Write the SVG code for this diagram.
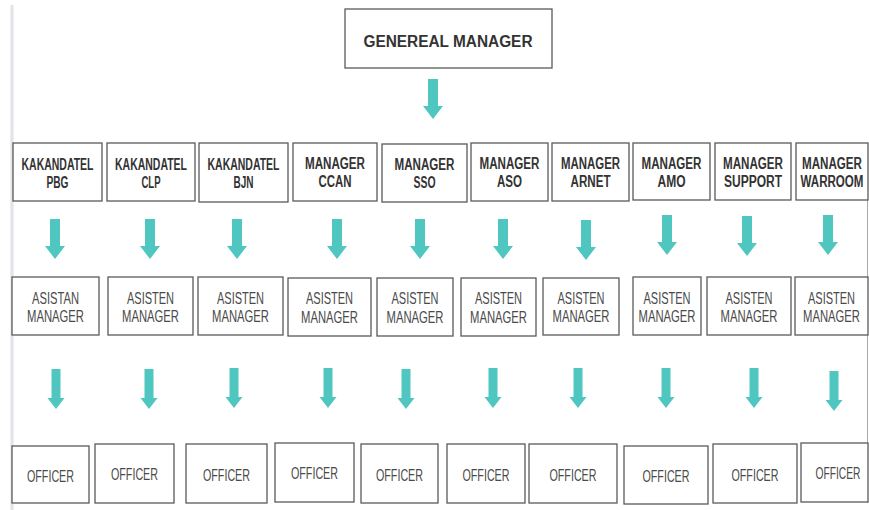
<svg xmlns="http://www.w3.org/2000/svg" xmlns:xlink="http://www.w3.org/1999/xlink" width="869" height="510" viewBox="0 0 869 510">
<style>
.box{fill:#fff;stroke:#5a5a5a;stroke-width:1.3}
.b{font-family:"Liberation Sans",Arial,sans-serif;font-weight:bold;font-size:16px;fill:#333;text-anchor:middle}
.n{font-family:"Liberation Sans",Arial,sans-serif;font-size:17px;fill:#4a4a4a;text-anchor:middle}
.arr{fill:#4fc6c0}
</style>
<defs>
<path id="arrowA" d="M-5,0 H5 V27 H10 L0,40 L-10,27 H-5 Z"/>
<path id="arrowB" d="M-4.5,0 H4.5 V29 H8.5 L0,40 L-8.5,29 H-4.5 Z"/>
</defs>
<rect width="869" height="510" fill="#fff"/>
<line x1="12" y1="5" x2="12" y2="510" stroke="#e2e2e8" stroke-width="3"/>
<line x1="867.5" y1="143" x2="867.5" y2="503" stroke="#aaa" stroke-width="1"/>

<g id="gm"><rect class="box" x="345" y="9" width="207" height="59"/><text class="b" x="448" y="47" font-size="21" textLength="169" lengthAdjust="spacingAndGlyphs">GENEREAL MANAGER</text></g>

<g id="r1-1"><rect class="box" x="13" y="143" width="89" height="58"/><text class="b" x="57.5" y="170" textLength="72" lengthAdjust="spacingAndGlyphs">KAKANDATEL</text><text class="b" x="57.5" y="188" textLength="22" lengthAdjust="spacingAndGlyphs">PBG</text></g>
<g id="r1-2"><rect class="box" x="107" y="143" width="88" height="58"/><text class="b" x="151" y="170" textLength="72" lengthAdjust="spacingAndGlyphs">KAKANDATEL</text><text class="b" x="151" y="188" textLength="19" lengthAdjust="spacingAndGlyphs">CLP</text></g>
<g id="r1-3"><rect class="box" x="199" y="143" width="89" height="59"/><text class="b" x="243.5" y="170" textLength="72" lengthAdjust="spacingAndGlyphs">KAKANDATEL</text><text class="b" x="243.5" y="188" textLength="20" lengthAdjust="spacingAndGlyphs">BJN</text></g>
<g id="r1-4"><rect class="box" x="293" y="143" width="84" height="58"/><text class="b" x="335" y="169" textLength="60" lengthAdjust="spacingAndGlyphs">MANAGER</text><text class="b" x="335" y="187" textLength="33" lengthAdjust="spacingAndGlyphs">CCAN</text></g>
<g id="r1-5"><rect class="box" x="382" y="144" width="85" height="58"/><text class="b" x="424.5" y="170" textLength="60" lengthAdjust="spacingAndGlyphs">MANAGER</text><text class="b" x="424.5" y="188" textLength="22" lengthAdjust="spacingAndGlyphs">SSO</text></g>
<g id="r1-6"><rect class="box" x="471" y="143" width="77" height="58"/><text class="b" x="509.5" y="169" textLength="60" lengthAdjust="spacingAndGlyphs">MANAGER</text><text class="b" x="509.5" y="187" textLength="25" lengthAdjust="spacingAndGlyphs">ASO</text></g>
<g id="r1-7"><rect class="box" x="552" y="143" width="77" height="58"/><text class="b" x="590.5" y="169" textLength="59" lengthAdjust="spacingAndGlyphs">MANAGER</text><text class="b" x="590.5" y="187" textLength="40" lengthAdjust="spacingAndGlyphs">ARNET</text></g>
<g id="r1-8"><rect class="box" x="633" y="143" width="77" height="57"/><text class="b" x="671.5" y="169" textLength="60" lengthAdjust="spacingAndGlyphs">MANAGER</text><text class="b" x="671.5" y="187" textLength="28" lengthAdjust="spacingAndGlyphs">AMO</text></g>
<g id="r1-9"><rect class="box" x="715" y="143" width="76" height="57"/><text class="b" x="753" y="169" textLength="60" lengthAdjust="spacingAndGlyphs">MANAGER</text><text class="b" x="753" y="187" textLength="58" lengthAdjust="spacingAndGlyphs">SUPPORT</text></g>
<g id="r1-10"><rect class="box" x="796" y="143" width="72" height="57"/><text class="b" x="832" y="169" textLength="60" lengthAdjust="spacingAndGlyphs">MANAGER</text><text class="b" x="832" y="187" textLength="63" lengthAdjust="spacingAndGlyphs">WARROOM</text></g>

<g id="r2-1"><rect class="box" x="12" y="277" width="87" height="58"/><text class="n" x="55.5" y="304" textLength="47" lengthAdjust="spacingAndGlyphs">ASISTAN</text><text class="n" x="55.5" y="322" textLength="57" lengthAdjust="spacingAndGlyphs">MANAGER</text></g>
<g id="r2-2"><rect class="box" x="108" y="277" width="85" height="58"/><text class="n" x="150.5" y="304" textLength="47" lengthAdjust="spacingAndGlyphs">ASISTEN</text><text class="n" x="150.5" y="322" textLength="57" lengthAdjust="spacingAndGlyphs">MANAGER</text></g>
<g id="r2-3"><rect class="box" x="198" y="277" width="85" height="58"/><text class="n" x="240.5" y="304" textLength="47" lengthAdjust="spacingAndGlyphs">ASISTEN</text><text class="n" x="240.5" y="322" textLength="57" lengthAdjust="spacingAndGlyphs">MANAGER</text></g>
<g id="r2-4"><rect class="box" x="288" y="278" width="83" height="58"/><text class="n" x="329.5" y="304" textLength="47" lengthAdjust="spacingAndGlyphs">ASISTEN</text><text class="n" x="329.5" y="323" textLength="57" lengthAdjust="spacingAndGlyphs">MANAGER</text></g>
<g id="r2-5"><rect class="box" x="377" y="278" width="76" height="58"/><text class="n" x="415" y="304" textLength="47" lengthAdjust="spacingAndGlyphs">ASISTEN</text><text class="n" x="415" y="323" textLength="57" lengthAdjust="spacingAndGlyphs">MANAGER</text></g>
<g id="r2-6"><rect class="box" x="461" y="278" width="75" height="58"/><text class="n" x="498.5" y="304" textLength="47" lengthAdjust="spacingAndGlyphs">ASISTEN</text><text class="n" x="498.5" y="323" textLength="57" lengthAdjust="spacingAndGlyphs">MANAGER</text></g>
<g id="r2-7"><rect class="box" x="543" y="278" width="76" height="57"/><text class="n" x="581" y="304" textLength="47" lengthAdjust="spacingAndGlyphs">ASISTEN</text><text class="n" x="581" y="322" textLength="57" lengthAdjust="spacingAndGlyphs">MANAGER</text></g>
<g id="r2-8"><rect class="box" x="633" y="277" width="68" height="58"/><text class="n" x="667" y="304" textLength="47" lengthAdjust="spacingAndGlyphs">ASISTEN</text><text class="n" x="667" y="322" textLength="57" lengthAdjust="spacingAndGlyphs">MANAGER</text></g>
<g id="r2-9"><rect class="box" x="707" y="277" width="84" height="58"/><text class="n" x="749" y="304" textLength="47" lengthAdjust="spacingAndGlyphs">ASISTEN</text><text class="n" x="749" y="322" textLength="57" lengthAdjust="spacingAndGlyphs">MANAGER</text></g>
<g id="r2-10"><rect class="box" x="795" y="277" width="73" height="58"/><text class="n" x="831.5" y="304" textLength="47" lengthAdjust="spacingAndGlyphs">ASISTEN</text><text class="n" x="831.5" y="322" textLength="57" lengthAdjust="spacingAndGlyphs">MANAGER</text></g>

<g id="r3-1"><rect class="box" x="12" y="446" width="77" height="57"/><text class="n" x="50.5" y="482" textLength="47" lengthAdjust="spacingAndGlyphs">OFFICER</text></g>
<g id="r3-2"><rect class="box" x="95" y="444" width="79" height="59"/><text class="n" x="134.5" y="480" textLength="47" lengthAdjust="spacingAndGlyphs">OFFICER</text></g>
<g id="r3-3"><rect class="box" x="186" y="444" width="81" height="59"/><text class="n" x="226.5" y="481" textLength="47" lengthAdjust="spacingAndGlyphs">OFFICER</text></g>
<g id="r3-4"><rect class="box" x="275" y="443" width="79" height="59"/><text class="n" x="314.5" y="479" textLength="47" lengthAdjust="spacingAndGlyphs">OFFICER</text></g>
<g id="r3-5"><rect class="box" x="361" y="444" width="77" height="59"/><text class="n" x="399.5" y="481" textLength="47" lengthAdjust="spacingAndGlyphs">OFFICER</text></g>
<g id="r3-6"><rect class="box" x="447" y="444" width="78" height="59"/><text class="n" x="486" y="481" textLength="47" lengthAdjust="spacingAndGlyphs">OFFICER</text></g>
<g id="r3-7"><rect class="box" x="529" y="444" width="88" height="59"/><text class="n" x="573" y="481" textLength="47" lengthAdjust="spacingAndGlyphs">OFFICER</text></g>
<g id="r3-8"><rect class="box" x="624" y="446" width="84" height="58"/><text class="n" x="666" y="482" textLength="47" lengthAdjust="spacingAndGlyphs">OFFICER</text></g>
<g id="r3-9"><rect class="box" x="713" y="444" width="84" height="59"/><text class="n" x="755" y="481" textLength="47" lengthAdjust="spacingAndGlyphs">OFFICER</text></g>
<g id="r3-10"><rect class="box" x="801" y="443" width="67" height="59"/><text class="n" x="838" y="479" textLength="45" lengthAdjust="spacingAndGlyphs">OFFICER</text></g>

<g id="connectors" class="arr">
<use xlink:href="#arrowA" x="433" y="79"/>
<use xlink:href="#arrowA" x="55" y="219"/>
<use xlink:href="#arrowA" x="150" y="219"/>
<use xlink:href="#arrowA" x="237" y="219"/>
<use xlink:href="#arrowA" x="337" y="219"/>
<use xlink:href="#arrowA" x="420" y="219"/>
<use xlink:href="#arrowA" x="503" y="219"/>
<use xlink:href="#arrowA" x="586" y="220"/>
<use xlink:href="#arrowA" x="667" y="215"/>
<use xlink:href="#arrowA" x="747" y="216"/>
<use xlink:href="#arrowA" x="828" y="215"/>
<use xlink:href="#arrowB" x="56" y="369"/>
<use xlink:href="#arrowB" x="149" y="369"/>
<use xlink:href="#arrowB" x="234" y="368"/>
<use xlink:href="#arrowB" x="328" y="368"/>
<use xlink:href="#arrowB" x="406" y="369"/>
<use xlink:href="#arrowB" x="493" y="368"/>
<use xlink:href="#arrowB" x="578" y="368"/>
<use xlink:href="#arrowB" x="666" y="368"/>
<use xlink:href="#arrowB" x="754" y="368"/>
<use xlink:href="#arrowB" x="834" y="371"/>
</g>
</svg>
